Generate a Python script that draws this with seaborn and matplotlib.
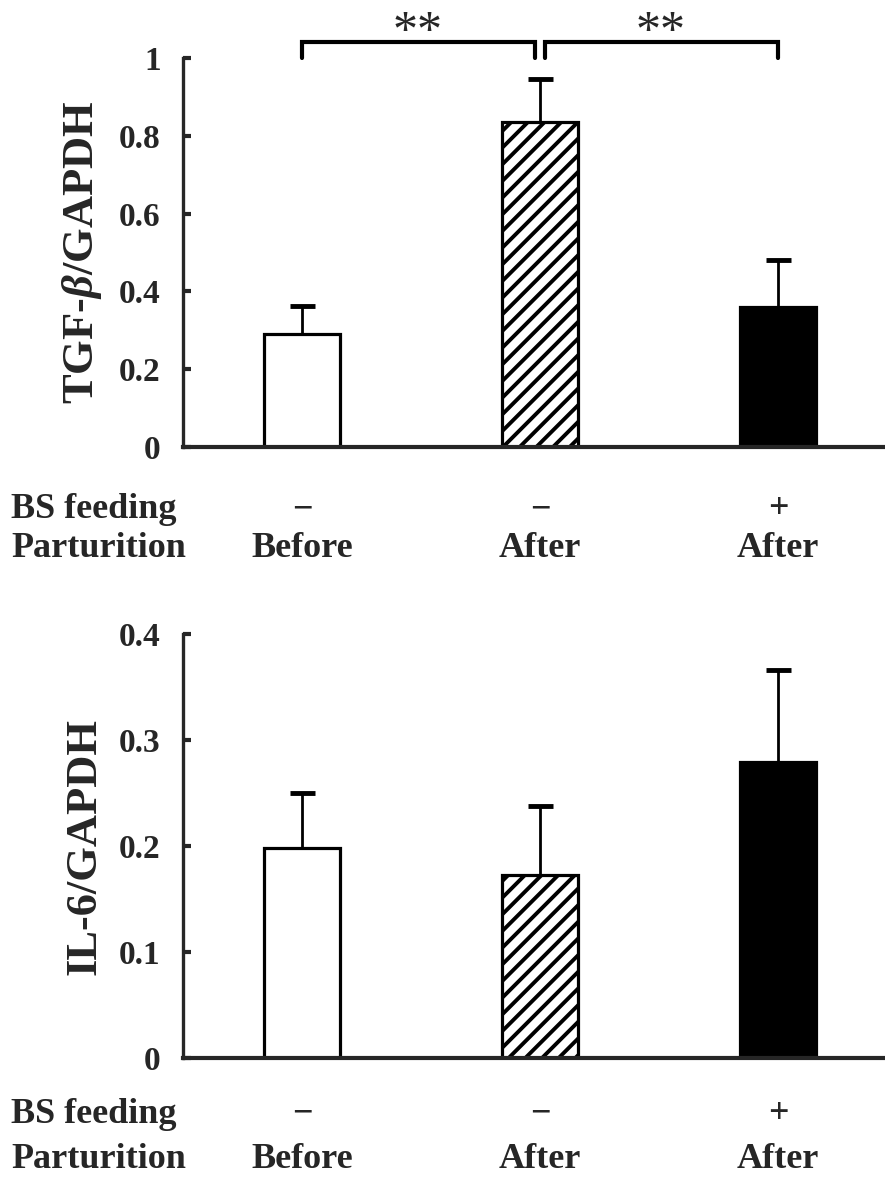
import matplotlib
matplotlib.use("Agg")
import matplotlib.pyplot as plt
import matplotlib.transforms as mtransforms
from matplotlib.ticker import FuncFormatter
import seaborn as sns

# --- data ---
groups = ["Before/-", "After/-", "After/+"]
bs_feeding = ["\u2212", "\u2212", "+"]
parturition = ["Before", "After", "After"]
bar_colors = ["white", "white", "black"]
bar_hatches = ["", "//", ""]

tgf_mean = [0.291, 0.836, 0.360]
tgf_sem = [0.071, 0.111, 0.121]

il6_mean = [0.198, 0.173, 0.279]
il6_sem = [0.052, 0.065, 0.087]

sig_pairs = [(0, 0.98), (1.02, 2)]
sig_labels = ["**", "**"]

sns.set_style("white")
plt.rcParams["font.family"] = ["Liberation Serif", "DejaVu Serif"]
plt.rcParams["font.weight"] = "bold"
plt.rcParams["mathtext.fontset"] = "custom"
plt.rcParams["mathtext.rm"] = "Liberation Serif:bold"
plt.rcParams["mathtext.it"] = "Liberation Serif:bold:italic"
plt.rcParams["hatch.linewidth"] = 2.8
plt.rcParams["hatch.color"] = "black"


def draw_panel(fig, rect, means, sems, ylim, yticks, ylabel, row_y):
    ax = fig.add_axes(rect)
    sns.barplot(x=groups, y=means, hue=groups, palette=bar_colors, legend=False,
                width=0.32, edgecolor="black", linewidth=2.3, ax=ax)
    for patch, h in zip(ax.patches, bar_hatches):
        patch.set_hatch(h)
        patch.set_zorder(3)
    _, caps, _ = ax.errorbar(range(len(groups)), means,
                             yerr=[[0] * len(sems), sems],
                             fmt="none", ecolor="black", elinewidth=2.0,
                             capsize=9, capthick=3.5, zorder=2)
    caps[0].set_visible(False)  # only the upper whisker is shown
    ax.set_xlim(-0.5, 2.45)
    ax.set_ylim(*ylim)
    ax.set_yticks(yticks)
    ax.yaxis.set_major_formatter(FuncFormatter(lambda v, p: f"{v:g}"))
    ax.set_xticks([])
    ax.set_xlabel("")
    sns.despine(ax=ax)
    ax.spines["left"].set_linewidth(2.4)
    ax.spines["bottom"].set_linewidth(3.0)
    ax.spines["bottom"].set_zorder(4)
    ax.tick_params(axis="y", direction="in", length=6, width=3, pad=16,
                   labelsize=24, left=True)
    for lab in ax.get_yticklabels():
        lab.set_fontweight("bold")
    ax.set_ylabel(ylabel, fontsize=32, fontweight="bold")
    ax.yaxis.set_label_coords(-0.112, 0.5)

    # row labels under the axis
    trans = mtransforms.blended_transform_factory(ax.transData, fig.transFigure)
    fig.text(11 / 885, row_y[0], "BS feeding", fontsize=26, fontweight="bold",
             ha="left", va="center")
    fig.text(11 / 885, row_y[1], "Parturition", fontsize=26, fontweight="bold",
             ha="left", va="center")
    for i, (b, p) in enumerate(zip(bs_feeding, parturition)):
        ax.text(i, row_y[0], b, transform=trans, fontsize=26, fontweight="bold",
                ha="center", va="center")
        ax.text(i, row_y[1], p, transform=trans, fontsize=26, fontweight="bold",
                ha="center", va="center")
    return ax


fig = plt.figure(figsize=(8.85, 11.77), dpi=100)

ax1 = draw_panel(fig, [183 / 885, 0.6202, 1 - 183 / 885, 0.3305],
                 tgf_mean, tgf_sem, (0, 1), [0, 0.2, 0.4, 0.6, 0.8, 1],
                 "TGF-$\\mathit{\\beta}$/GAPDH", (0.567, 0.534))

# significance brackets
for (x0, x1), lab in zip(sig_pairs, sig_labels):
    ax1.plot([x0, x0, x1, x1], [1.0, 1.041, 1.041, 1.0], color="black",
             lw=3, clip_on=False, solid_joinstyle="miter")
    ax1.text((x0 + x1) / 2 - 0.005, 1.065, lab, fontsize=36, fontweight="normal",
             ha="center", va="center", clip_on=False)

ax2 = draw_panel(fig, [183 / 885, 0.1011, 1 - 183 / 885, 0.3602],
                 il6_mean, il6_sem, (0, 0.4), [0, 0.1, 0.2, 0.3, 0.4],
                 "IL-6/GAPDH", (0.0535, 0.0148))

fig.savefig("out.png", dpi=100, facecolor="white")
